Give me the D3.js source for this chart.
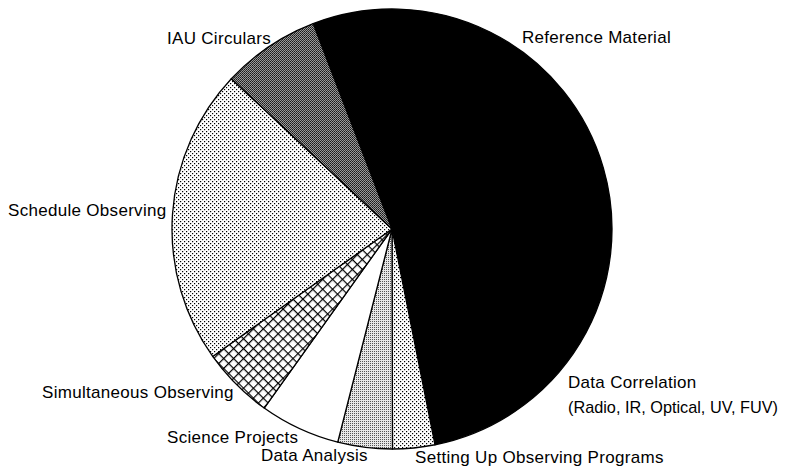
<!DOCTYPE html>
<html>
<head>
<meta charset="utf-8">
<script src="https://cdn.jsdelivr.net/npm/d3@7"></script>
<style>
  body { margin: 0; background: #fff; }
  text { font-family: "Liberation Sans", Arial, sans-serif; font-size: 17px; fill: #000; letter-spacing: 0.3px; }
</style>
</head>
<body>
<script>
// slices, clockwise from the Reference Material edge
var categories = ["Reference Material", "Setting Up Observing Programs", "Data Analysis",
                  "Science Projects", "Simultaneous Observing", "Schedule Observing", "IAU Circulars"];
var values = [52.7, 3.1, 4.0, 5.9, 5.3, 21.8, 7.2];

function init(){
    var w = 788, h = 472;
    var cx = 392, cy = 229, r = 220;
    var startDeg = -21;

    var svg = d3.select("body").append("svg")
        .attr("width", w)
        .attr("height", h);

    var defs = svg.append("defs");

    // sparse dots (schedule / setting up)
    var p1 = defs.append("pattern").attr("id", "dots").attr("patternUnits", "userSpaceOnUse")
        .attr("width", 4).attr("height", 4);
    p1.append("rect").attr("width", 4).attr("height", 4).attr("fill", "#fff");
    p1.append("rect").attr("x", 0).attr("y", 0).attr("width", 1.2).attr("height", 1.2).attr("fill", "#000");
    p1.append("rect").attr("x", 2).attr("y", 2).attr("width", 1.2).attr("height", 1.2).attr("fill", "#000");

    // denser dots (data analysis)
    var p2 = defs.append("pattern").attr("id", "fine").attr("patternUnits", "userSpaceOnUse")
        .attr("width", 2).attr("height", 2);
    p2.append("rect").attr("width", 2).attr("height", 2).attr("fill", "#e8e8e8");
    p2.append("rect").attr("x", 0).attr("y", 0).attr("width", 1).attr("height", 1).attr("fill", "#555");

    // dark mottled (IAU)
    var p3 = defs.append("pattern").attr("id", "dark").attr("patternUnits", "userSpaceOnUse")
        .attr("width", 2).attr("height", 2);
    p3.append("rect").attr("width", 2).attr("height", 2).attr("fill", "#9a9a9a");
    p3.append("rect").attr("x", 0).attr("y", 0).attr("width", 1).attr("height", 1).attr("fill", "#1a1a1a");
    p3.append("rect").attr("x", 1).attr("y", 1).attr("width", 1).attr("height", 1).attr("fill", "#333");

    // crosshatch (simultaneous)
    var p4 = defs.append("pattern").attr("id", "hatch").attr("patternUnits", "userSpaceOnUse")
        .attr("width", 7).attr("height", 7).attr("patternTransform", "rotate(45)");
    p4.append("rect").attr("width", 7).attr("height", 7).attr("fill", "#fff");
    p4.append("line").attr("x1", 0).attr("y1", 0).attr("x2", 0).attr("y2", 7).attr("stroke", "#000").attr("stroke-width", 2.4);
    p4.append("line").attr("x1", 0).attr("y1", 0).attr("x2", 7).attr("y2", 0).attr("stroke", "#000").attr("stroke-width", 2.4);

    var fills = ["#000", "url(#dots)", "url(#fine)", "#fff", "url(#hatch)", "url(#dots)", "url(#dark)"];

    // label anchor offsets from pie centre
    var labelPos = {
        "Reference Material": [130, -186],
        "Setting Up Observing Programs": [23, 234],
        "Data Analysis": [-131, 232],
        "Science Projects": [-225, 214],
        "Simultaneous Observing": [-350, 169],
        "Schedule Observing": [-384, -13],
        "IAU Circulars": [-225, -185]
    };

    var pie = d3.pie().sort(null).value(function(d){ return d; })
        .startAngle(startDeg * Math.PI / 180)
        .endAngle((startDeg + 360) * Math.PI / 180);

    var arc = d3.arc().innerRadius(0).outerRadius(r);

    var g = svg.append("g").attr("transform", "translate(" + cx + "," + cy + ")");

    g.selectAll("path")
        .data(pie(values))
        .enter()
        .append("path")
        .attr("d", arc)
        .attr("fill", function(d, i){ return fills[i]; })
        .attr("stroke", "#000")
        .attr("stroke-width", 1.3)
        .attr("stroke-linejoin", "round");

    g.selectAll("text.lab")
        .data(categories)
        .enter()
        .append("text")
        .attr("class", "lab")
        .attr("x", function(d){ return labelPos[d][0]; })
        .attr("y", function(d){ return labelPos[d][1]; })
        .text(function(d){ return d; });

    // the large slice carries a two-line note
    var note = g.append("text").attr("x", 176).attr("y", 159);
    note.append("tspan").attr("x", 176).attr("dy", 0).text("Data Correlation");
    note.append("tspan").attr("x", 176).attr("dy", 25)
        .style("letter-spacing", "0px")
        .attr("textLength", 210).attr("lengthAdjust", "spacingAndGlyphs")
        .text("(Radio, IR, Optical, UV, FUV)");
}
window.onload = init;
</script>
</body>
</html>
